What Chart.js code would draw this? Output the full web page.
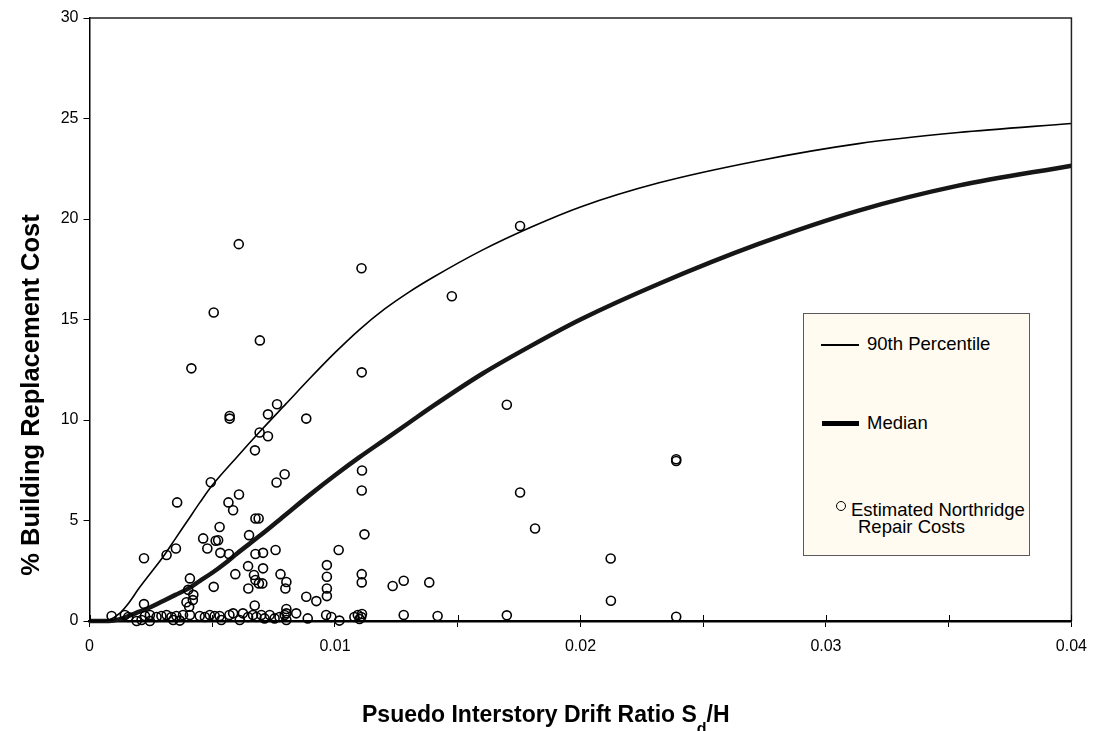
<!DOCTYPE html>
<html>
<head>
<meta charset="utf-8">
<script src="https://cdn.jsdelivr.net/npm/chart.js@4.4.0/dist/chart.umd.min.js"></script>
<style>
html,body{margin:0;padding:0;background:#fff;overflow:hidden;}
#wrap{position:relative;width:1097px;height:731px;overflow:hidden;font-family:'Liberation Sans',Arial,sans-serif;color:#000;}
#c{position:absolute;left:0;top:0;}
#ytitle{position:absolute;left:-170px;top:381px;width:400px;height:28px;line-height:28px;text-align:center;font-weight:bold;font-size:25.5px;transform:rotate(-90deg);transform-origin:50% 50%;white-space:nowrap;}
#xtitle{position:absolute;left:362px;top:703px;height:23px;line-height:23px;font-weight:bold;font-size:23px;white-space:nowrap;}
#xtitle sub{font-size:16px;position:relative;top:12px;vertical-align:baseline;}
#legend{position:absolute;left:803px;top:313px;width:227px;height:243px;box-sizing:border-box;background:#FFFBF0;border:1px solid #5a5a5a;font-size:18.5px;}
.lg{position:absolute;white-space:nowrap;line-height:20px;}
.ln{position:absolute;background:#000;}
.mk{position:absolute;width:8px;height:8px;border:1.5px solid #000;border-radius:50%;box-sizing:content-box;}
</style>
</head>
<body>
<div id="wrap">
<canvas id="c" width="1097" height="731"></canvas>
<div id="ytitle"></div>
<div id="xtitle"></div>
<div id="legend"></div>
</div>
<script>
// ---- data ----
const xTickLabels = ['0', '0.01', '0.02', '0.03', '0.04'];
const yTickStep = 5;

const p90X = [0, 0.0005, 0.0008, 0.0012, 0.0016, 0.002, 0.0025, 0.003, 0.0035, 0.004, 0.0045, 0.005, 0.006, 0.007, 0.008, 0.009, 0.01, 0.011, 0.012, 0.013, 0.014, 0.016, 0.018, 0.02, 0.0232, 0.02726, 0.03133, 0.03539, 0.04];
const p90Y = [0, 0, 0.05, 0.35, 0.9, 1.6, 2.4, 3.2, 4.1, 5.0, 5.9, 6.75, 8.15, 9.5, 10.8, 12.1, 13.35, 14.5, 15.5, 16.35, 17.1, 18.45, 19.6, 20.6, 21.8, 22.9, 23.75, 24.3, 24.75];

const medianX = [0, 0.0008, 0.0012, 0.0016, 0.002, 0.0025, 0.003, 0.0035, 0.004, 0.0045, 0.005, 0.0055, 0.006, 0.007, 0.008, 0.009, 0.01, 0.011, 0.012, 0.013, 0.014, 0.016, 0.018, 0.02, 0.0232, 0.02726, 0.03133, 0.03539, 0.04];
const medianY = [0, 0, 0.08, 0.25, 0.45, 0.7, 1.0, 1.3, 1.6, 2.0, 2.4, 2.85, 3.35, 4.3, 5.3, 6.3, 7.25, 8.15, 9.0, 9.85, 10.7, 12.3, 13.7, 15.0, 16.78, 18.76, 20.42, 21.66, 22.65];

const repairX = [
 0.00608,0.01108,0.01754,0.01476,0.00506,0.00694,0.00415,0.01109,0.00571,0.00571,
 0.00727,0.00764,0.00883,0.017,0.00693,0.00727,0.00674,0.0239,0.0239,0.0111,
 0.00795,0.00762,0.00494,0.01109,0.01754,0.00609,0.00357,0.00566,0.00585,0.00676,
 0.00689,0.0053,0.01815,0.0112,0.0065,0.00463,0.00514,0.00524,0.0048,0.00352,
 0.00314,0.00222,0.00533,0.00568,0.00676,0.00707,0.00758,0.01015,0.02123,0.00646,
 0.00707,0.00967,0.00594,0.00778,0.0067,0.01109,0.00967,0.00409,0.01109,0.0128,
 0.01384,0.00676,0.0069,0.00704,0.00802,0.01235,0.00506,0.00798,0.00647,0.00967,
 0.00402,0.00423,0.00421,0.00395,0.00406,0.00967,0.00883,0.00924,0.02124,0.00222,
 0.00673,0.00802,0.00802,
 0.0009,0.00144,0.00158,0.00192,0.00212,0.00226,0.00246,0.00246,0.00273,0.00293,
 0.00314,0.00334,0.00341,0.00354,0.00368,0.00381,0.00409,0.00449,0.0047,0.0049,
 0.0051,0.0053,0.00537,0.0057,0.00585,0.00612,0.00625,0.00646,0.00666,0.0068,
 0.007,0.00713,0.00734,0.00754,0.00774,0.00795,0.00802,0.00842,0.00889,0.00964,
 0.00985,0.01018,0.01079,0.01093,0.01107,0.011,0.0111,0.0128,0.01418,0.017,0.0239
];
const repairY = [
 18.75,17.55,19.65,16.16,15.35,13.96,12.57,12.37,10.2,10.07,
 10.28,10.78,10.07,10.76,9.38,9.19,8.49,8.05,7.96,7.49,
 7.3,6.89,6.9,6.49,6.39,6.29,5.9,5.9,5.51,5.1,
 5.1,4.68,4.6,4.31,4.27,4.11,3.99,4.02,3.61,3.61,
 3.28,3.12,3.39,3.33,3.33,3.39,3.53,3.53,3.11,2.73,
 2.62,2.78,2.33,2.33,2.29,2.33,2.2,2.12,1.92,2.0,
 1.92,2.04,1.87,1.87,1.94,1.74,1.7,1.62,1.62,1.62,
 1.55,1.3,1.04,0.93,0.71,1.24,1.21,0.99,1.01,0.84,
 0.77,0.6,0.38,
 0.25,0.3,0.2,0,0.05,0.25,0.3,0,0.2,0.25,
 0.3,0.2,0.05,0.25,0.02,0.3,0.3,0.25,0.2,0.3,
 0.25,0.25,0.05,0.3,0.38,0.05,0.38,0.2,0.3,0.2,
 0.3,0.13,0.3,0.13,0.2,0.3,0.05,0.38,0.13,0.3,
 0.2,0.02,0.2,0.3,0.2,0.1,0.35,0.3,0.25,0.28,0.21
];

const seriesNames = ['90th Percentile', 'Median', 'Estimated Northridge', 'Repair Costs'];
const xTitleMain = 'Psuedo Interstory Drift Ratio S';
const xTitleSub = 'd';
const xTitleTail = '/H';
const yTitle = '% Building Replacement Cost';

// ---- build ----
const pts = (xs, ys) => xs.map((x, i) => ({x: x, y: ys[i]}));

const framePlugin = {
  id: 'frame',
  afterDraw(chart) {
    const {ctx, chartArea: a, scales} = chart;
    ctx.save();
    ctx.strokeStyle = '#222';
    ctx.lineWidth = 1.5;
    ctx.beginPath();
    ctx.moveTo(a.left, a.top); ctx.lineTo(a.right, a.top); ctx.lineTo(a.right, a.bottom);
    ctx.stroke();
    // inner tick marks on the x axis
    ctx.strokeStyle = '#000';
    ctx.lineWidth = 1;
    scales.x.ticks.forEach(t => {
      const px = Math.round(scales.x.getPixelForValue(t.value)) + 0.5;
      ctx.beginPath(); ctx.moveTo(px, a.bottom); ctx.lineTo(px, a.bottom - 6); ctx.stroke();
    });
    ctx.restore();
  }
};

new Chart(document.getElementById('c'), {
  type: 'scatter',
  data: {
    datasets: [
      {label: seriesNames[2] + ' ' + seriesNames[3], data: pts(repairX, repairY), showLine: false,
       pointRadius: 4.5, pointBorderWidth: 1.6, borderColor: '#000', backgroundColor: 'rgba(0,0,0,0)',
       pointBackgroundColor: 'rgba(0,0,0,0)', pointBorderColor: '#000', order: 0, clip: false},
      {label: seriesNames[0], data: pts(p90X, p90Y), showLine: true, pointRadius: 0,
       borderColor: '#000', borderWidth: 1.6, cubicInterpolationMode: 'monotone', fill: false, order: 1, clip: false},
      {label: seriesNames[1], data: pts(medianX, medianY), showLine: true, pointRadius: 0,
       borderColor: '#161616', borderWidth: 4.5, cubicInterpolationMode: 'monotone', fill: false, order: 2, clip: false}
    ]
  },
  options: {
    responsive: false,
    animation: false,
    devicePixelRatio: 1,
    events: [],
    layout: {padding: {left: 0, right: 23.5, top: 18, bottom: 0}},
    plugins: {legend: {display: false}, tooltip: {enabled: false}},
    scales: {
      x: {
        type: 'linear', min: 0, max: 0.04,
        afterFit(s) { s.height = 110; },
        ticks: {
          stepSize: 0.005, autoSkip: false, maxRotation: 0, padding: 10, color: '#000',
          font: {family: "'Liberation Sans', Arial, sans-serif", size: 16},
          callback(v) { const k = Math.round(v * 200); return k % 2 === 0 ? xTickLabels[k / 2] : ''; }
        },
        grid: {drawOnChartArea: false, drawTicks: true, tickLength: 6, color: '#000', lineWidth: 1},
        border: {color: '#000', width: 2.5}
      },
      y: {
        type: 'linear', min: 0, max: 30,
        afterFit(s) { s.width = 89.5; },
        ticks: {stepSize: yTickStep, padding: 5, color: '#000',
          font: {family: "'Liberation Sans', Arial, sans-serif", size: 16}},
        grid: {drawOnChartArea: false, drawTicks: true, tickLength: 6, color: '#000', lineWidth: 1},
        border: {color: '#000', width: 1.5}
      }
    }
  },
  plugins: [framePlugin]
});

// titles
document.getElementById('ytitle').textContent = yTitle;
const xt = document.getElementById('xtitle');
xt.appendChild(document.createTextNode(xTitleMain));
const sb = document.createElement('sub'); sb.textContent = xTitleSub; xt.appendChild(sb);
xt.appendChild(document.createTextNode(xTitleTail));

// legend
const lg = document.getElementById('legend');
const L = 803, T = 313;
function item(cls, text, css) {
  const d = document.createElement('div'); d.className = cls;
  if (text) d.textContent = text;
  d.style.cssText = css; lg.appendChild(d); return d;
}
item('ln', '', `left:${821-L-1}px;top:${344-T-1}px;width:38px;height:1.6px;`);
item('lg', seriesNames[0], `left:${866-L}px;top:${344-T-11}px;`);
item('ln', '', `left:${822-L-1}px;top:${423-T-3}px;width:37px;height:5px;`);
item('lg', seriesNames[1], `left:${866-L}px;top:${423-T-11}px;`);
item('mk', '', `left:${841-L-1-5.5}px;top:${506-T-1-5.5}px;`);
item('lg', seriesNames[2], `left:${850-L}px;top:${510-T-11}px;`);
item('lg', seriesNames[3], `left:${857-L}px;top:${527-T-11}px;`);
</script>
</body>
</html>
